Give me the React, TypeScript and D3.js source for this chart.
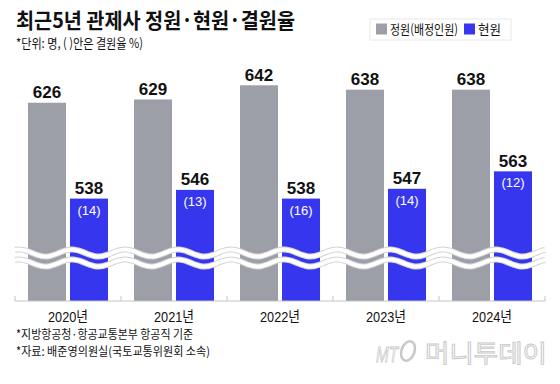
import React from "react";
import * as d3 from "d3";

// chart values
const years = ["2020년", "2021년", "2022년", "2023년", "2024년"];
const quota = [626, 629, 642, 638, 638]; // 정원(배정인원)
const current = [538, 546, 538, 547, 563]; // 현원
const vacancyRate = [14, 13, 16, 14, 12]; // 결원율 %
const seriesNames = ["정원(배정인원)", "현원"];
const axisBreakValue = 444; // value sitting on the (broken) axis line

const W = 560;
const H = 384;
const GRAY = "#9c9fa7";
const BLUE = "#3636ee";
const KR = "'Noto Sans CJK KR', 'Noto Sans', sans-serif";
const NUM = "'Liberation Sans Narrow', 'Liberation Sans', 'Noto Sans CJK KR', sans-serif";

const App = () => {
  const x = d3.scaleBand<string>().domain(years).range([15, 545]).padding(0);
  const xs = d3
    .scaleBand<string>()
    .domain(seriesNames)
    .range([13, 93])
    .paddingInner(0.095);
  const y = d3.scaleLinear().domain([axisBreakValue, 642]).range([301, 85.3]);
  const baseY = y(axisBreakValue);

  // decorative break waves
  const wave = (mid: number) => {
    const pts = d3.range(15, 546, 2).map((px) => [
      px,
      mid - 3.5 * Math.cos(((px - 72) / 53) * 2 * Math.PI),
    ]) as [number, number][];
    return d3.line().curve(d3.curveBasis)(pts) || "";
  };

  const ticks = d3.range(years.length + 1).map((i) => 15 + i * x.step());

  return (
    <svg
      width={W}
      height={H}
      style={{ position: "absolute", left: 0, top: 0, background: "#fff" }}
    >
      {/* title */}
      <text x={16} y={28} fontFamily={KR} fontWeight={700} fontSize={21}
        textLength={279} lengthAdjust="spacingAndGlyphs" fill="#111">
        최근5년 관제사 정원·현원·결원율
      </text>
      <text x={16} y={48} fontFamily={KR} fontSize={13}
        textLength={127} lengthAdjust="spacingAndGlyphs" fill="#111">
        *단위: 명, ( )안은 결원율 %)
      </text>

      {/* legend */}
      <rect x={370} y={19} width={141} height={21} fill="#fff" stroke="#e8e8e8" />
      <rect x={376} y={23.5} width={11} height={11} fill={GRAY} />
      <text x={390} y={34} fontFamily={KR} fontSize={13}
        textLength={68} lengthAdjust="spacingAndGlyphs" fill="#111">
        {seriesNames[0]}
      </text>
      <rect x={464} y={23.5} width={11} height={11} fill={BLUE} />
      <text x={478} y={34} fontFamily={KR} fontSize={13}
        textLength={23} lengthAdjust="spacingAndGlyphs" fill="#111">
        {seriesNames[1]}
      </text>

      {/* bars */}
      {years.map((yr, i) => {
        const x0 = x(yr)!;
        const gx = x0 + xs(seriesNames[0])!;
        const bx = x0 + xs(seriesNames[1])!;
        const bw = xs.bandwidth();
        return (
          <g key={yr}>
            <rect x={gx} y={y(quota[i])} width={bw} height={baseY - y(quota[i])} fill={GRAY} />
            <rect x={bx} y={y(current[i])} width={bw} height={baseY - y(current[i])} fill={BLUE} />
            <text x={gx + bw / 2} y={y(quota[i]) - 4.5} textAnchor="middle"
              fontFamily={NUM} fontWeight={700} fontSize={17} fill="#111">
              {quota[i]}
            </text>
            <text x={bx + bw / 2} y={y(current[i]) - 4.5} textAnchor="middle"
              fontFamily={NUM} fontWeight={700} fontSize={17} fill="#111">
              {current[i]}
            </text>
            <text x={bx + bw / 2} y={y(current[i]) + 16} textAnchor="middle"
              fontFamily={NUM} fontSize={13} fill="#fff">
              ({vacancyRate[i]})
            </text>
            <text x={x0 + x.bandwidth() / 2} y={322} textAnchor="middle"
              fontFamily={NUM} fontSize={15} fill="#111"
              textLength={40} lengthAdjust="spacingAndGlyphs">
              {yr}
            </text>
          </g>
        );
      })}

      {/* break waves */}
      {[253, 263].map((m) => (
        <g key={m}>
          <path d={wave(m)} fill="none" stroke="#d2d2d2" strokeWidth={6} />
          <path d={wave(m)} fill="none" stroke="#fff" strokeWidth={4} />
        </g>
      ))}

      {/* axis */}
      <line x1={15} x2={545} y1={baseY} y2={baseY} stroke="#c4c4c4" />
      {ticks.map((t) => (
        <line key={t} x1={t} x2={t} y1={baseY - 5} y2={baseY} stroke="#c4c4c4" />
      ))}

      {/* footnotes */}
      <text x={16} y={339} fontFamily={KR} fontSize={12}
        textLength={177} lengthAdjust="spacingAndGlyphs" fill="#111">
        *지방항공청·항공교통본부 항공직 기준
      </text>
      <text x={16} y={355.5} fontFamily={KR} fontSize={12}
        textLength={194} lengthAdjust="spacingAndGlyphs" fill="#111">
        *자료: 배준영의원실(국토교통위원회 소속)
      </text>

      {/* watermark */}
      <g fill="#fff" stroke="#c8c8c8" strokeWidth={0.9}>
        <text x={376} y={362} fontFamily={NUM} fontStyle="italic" fontSize={22}
          textLength={22} lengthAdjust="spacingAndGlyphs">
          MT
        </text>
        <ellipse cx={408} cy={351} rx={6.5} ry={10} transform="rotate(20 408 351)"
          fill="none" strokeWidth={2.5} />
        <text x={425} y={362} fontFamily={KR} fontSize={24}
          textLength={122} lengthAdjust="spacingAndGlyphs">
          머니투데이
        </text>
      </g>
    </svg>
  );
};

export default App;
